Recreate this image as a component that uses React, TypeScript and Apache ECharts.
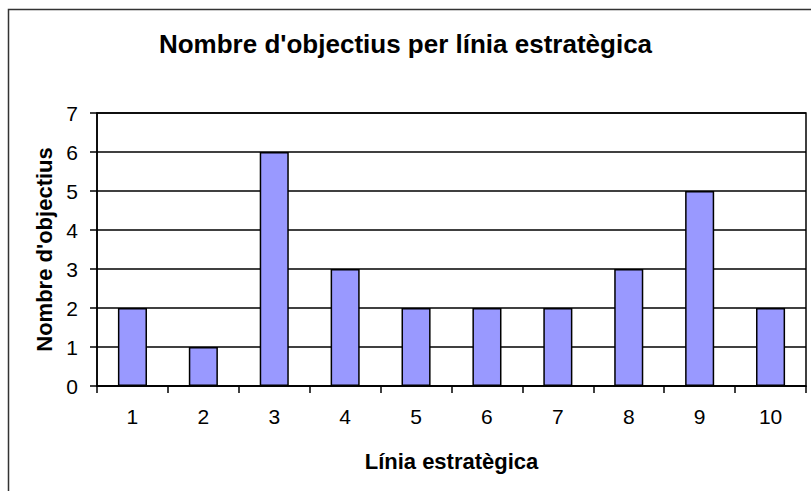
import React, { useEffect, useRef } from "react";
import * as echarts from "echarts";

const categories = ["1", "2", "3", "4", "5", "6", "7", "8", "9", "10"];
const objectiveCounts = [2, 1, 6, 3, 2, 2, 2, 3, 5, 2];
const titleText = "Nombre d'objectius per línia estratègica";
const xAxisTitle = "Línia estratègica";
const yAxisTitle = "Nombre d'objectius";

const FONT = "'Liberation Sans', Arial, sans-serif";

export default function App() {
  const ref = useRef<HTMLDivElement>(null);

  useEffect(() => {
    if (!ref.current) return;
    const chart = echarts.init(ref.current, null, { renderer: "svg" });
    chart.setOption({
      animation: false,
      backgroundColor: "#ffffff",
      title: {
        text: titleText,
        left: "center",
        top: 31,
        padding: 0,
        textStyle: {
          fontFamily: FONT,
          fontSize: 26,
          fontWeight: "bold",
          color: "#000",
        },
      },
      graphic: [
        {
          type: "rect",
          shape: { x: 8.5, y: 9.5, width: 900, height: 600 },
          style: { fill: "none", stroke: "#333", lineWidth: 1.5 },
          silent: true,
          z: -1,
        },
      ],
      grid: {
        left: 97,
        right: 5,
        top: 113,
        bottom: 105,
        show: true,
        borderColor: "#000",
        borderWidth: 1.5,
        backgroundColor: "#fff",
      },
      xAxis: {
        type: "category",
        data: categories,
        boundaryGap: true,
        name: xAxisTitle,
        nameLocation: "middle",
        nameGap: 64,
        nameTextStyle: {
          fontFamily: FONT,
          fontSize: 22,
          fontWeight: "bold",
          color: "#000",
        },
        axisLine: { show: true, lineStyle: { color: "#000", width: 1.5 } },
        axisTick: {
          show: true,
          alignWithLabel: false,
          length: 7,
          lineStyle: { color: "#000", width: 1.5 },
        },
        axisLabel: {
          fontFamily: FONT,
          fontSize: 21,
          color: "#000",
          margin: 20,
          interval: 0,
        },
        splitLine: { show: false },
      },
      yAxis: {
        type: "value",
        min: 0,
        max: 7,
        interval: 1,
        name: yAxisTitle,
        nameLocation: "middle",
        nameGap: 42,
        nameRotate: 90,
        nameTextStyle: {
          fontFamily: FONT,
          fontSize: 22,
          fontWeight: "bold",
          color: "#000",
        },
        axisLine: { show: true, lineStyle: { color: "#000", width: 1.5 } },
        axisTick: {
          show: true,
          inside: false,
          length: 7,
          lineStyle: { color: "#000", width: 1.5 },
        },
        axisLabel: {
          fontFamily: FONT,
          fontSize: 21,
          color: "#000",
          margin: 19,
        },
        splitLine: { show: true, lineStyle: { color: "#000", width: 1.5 } },
      },
      series: [
        {
          type: "bar",
          data: objectiveCounts,
          barWidth: "41%",
          itemStyle: {
            color: "#9999FF",
            borderColor: "#000",
            borderWidth: 1.5,
          },
        },
      ],
    });
    return () => chart.dispose();
  }, []);

  return (
    <div
      ref={ref}
      style={{ position: "absolute", left: 0, top: 0, width: 811, height: 491 }}
    />
  );
}
